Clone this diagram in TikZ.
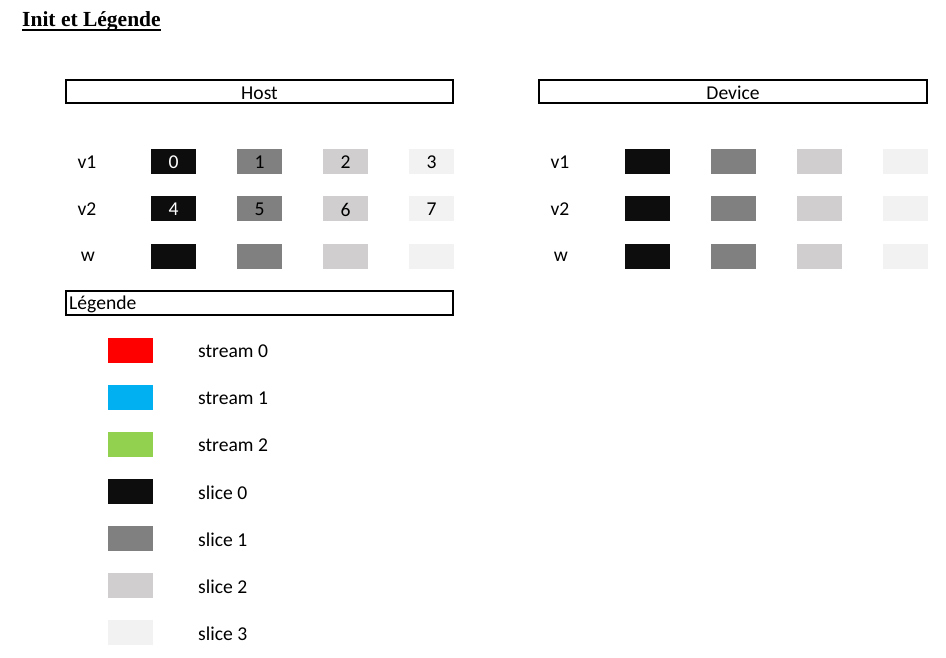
\documentclass[tikz,border=0pt]{standalone}
\usepackage{fontspec}
\setmainfont{Carlito}
\newfontfamily\titlefont{Liberation Serif}
\definecolor{sliceA}{HTML}{0D0D0D}
\definecolor{sliceB}{HTML}{808080}
\definecolor{sliceC}{HTML}{D0CECE}
\definecolor{sliceD}{HTML}{F2F2F2}
\definecolor{streamA}{HTML}{FF0000}
\definecolor{streamB}{HTML}{00B0F0}
\definecolor{streamC}{HTML}{92D050}
\tikzset{
  cell/.style={minimum width=45pt,minimum height=25pt,inner sep=0pt,outer sep=0pt,anchor=north west},
  txt/.style={font=\fontsize{19.6}{19.6}\selectfont,inner sep=0pt},
  header/.style={draw=black,line width=2pt},
}
\begin{document}
\begin{tikzpicture}[x=1pt,y=-1pt]
\useasboundingbox (0,0) rectangle (946,657);
% title
\node[anchor=base west,inner sep=0pt,font=\titlefont\bfseries\fontsize{21.5}{21.5}\selectfont] (title) at (22,26.7) {Init et Légende};
\draw[line width=2pt] (title.west |- 0,30) -- (title.east |- 0,30);
% headers
\draw[header] (66,80) rectangle (453,103);
\node[txt] (host) at (259.5,93) {Host};
\draw[header] (539,80) rectangle (927,103);
\node[txt] (device) at (733,93) {Device};
% host rows
\node[txt] (hv1) at (87,162) {v1};
\node[txt] (hv2) at (87,209.5) {v2};
\node[txt] (hw) at (88,257) {w};
\foreach \i/\c in {0/sliceA,1/sliceB,2/sliceC,3/sliceD}{
  \node[cell,fill=\c] (h1\i) at ({151+86*\i},149) {};
  \node[cell,fill=\c] (h2\i) at ({151+86*\i},196) {};
  \node[cell,fill=\c] (h3\i) at ({151+86*\i},244) {};
  \node[cell,fill=\c] (d1\i) at ({625+86*\i},149) {};
  \node[cell,fill=\c] (d2\i) at ({625+86*\i},196) {};
  \node[cell,fill=\c] (d3\i) at ({625+86*\i},244) {};
}
\node[txt,text=white] at ([yshift=-1pt]h10) {0};
\node[txt] at ([yshift=-1pt]h11) {1};
\node[txt] at ([yshift=-1pt]h12) {2};
\node[txt] at ([yshift=-1pt]h13) {3};
\node[txt,text=white] at ([yshift=-1pt]h20) {4};
\node[txt] at ([yshift=-1pt]h21) {5};
\node[txt] at ([yshift=-1pt]h22) {6};
\node[txt] at ([yshift=-1pt]h23) {7};
% device rows
\node[txt] (dv1) at (560,162) {v1};
\node[txt] (dv2) at (560,209.5) {v2};
\node[txt] (dw) at (561,257) {w};
% legend
\draw[header] (66,291) rectangle (453,315);
\node[txt,anchor=west] (leg) at (69,304) {Légende};
\foreach \i/\c/\t in {0/streamA/stream 0,1/streamB/stream 1,2/streamC/stream 2,3/sliceA/slice 0,4/sliceB/slice 1,5/sliceC/slice 2,6/sliceD/slice 3}{
  \node[cell,fill=\c] (l\i) at (108,{338+47*\i}) {};
  \node[txt,anchor=west] (lt\i) at (198,{351.5+47*\i}) {\t};
}
\end{tikzpicture}
\end{document}
